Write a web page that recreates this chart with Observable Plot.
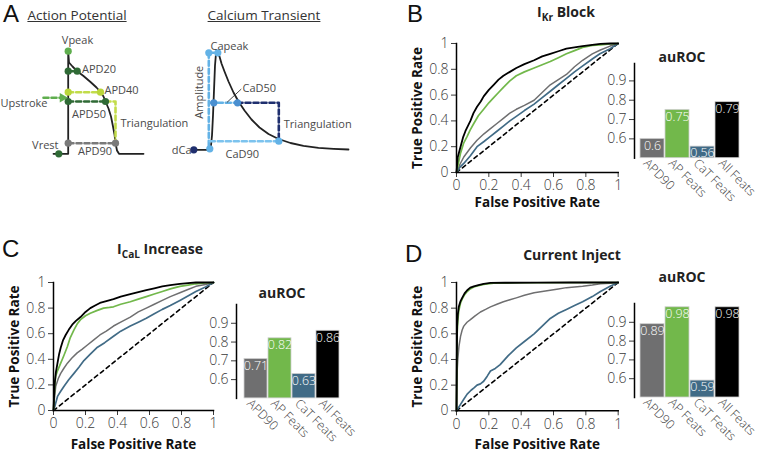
<!DOCTYPE html>
<html><head><meta charset="utf-8">
<script src="https://cdn.jsdelivr.net/npm/d3@7"></script>
<script src="https://cdn.jsdelivr.net/npm/@observablehq/plot@0.6"></script>
<style>
body{margin:0;background:#fff;}
#fig{position:relative;width:762px;height:456px;overflow:hidden;font-family:"Open Sans",sans-serif;color:#222;background:#fff;}
#fig > *{position:absolute;}
.lbl{line-height:1;white-space:nowrap;}
.lbl sub{font-size:0.72em;vertical-align:-0.35em;line-height:0;}
</style></head><body><div id="fig"></div>
<script>
// ---------- data ----------
const categories = ["APD90", "AP Feats", "CaT Feats", "All Feats"];
const colors = ["#6f6f70", "#72b84b", "#416b86", "#000000"];
const aurocB = [0.6, 0.75, 0.56, 0.79];
const aurocC = [0.71, 0.82, 0.63, 0.86];
const aurocD = [0.89, 0.98, 0.59, 0.98];
const rocTicks = [0, 0.2, 0.4, 0.6, 0.8, 1];
const barTicks = [0.6, 0.7, 0.8, 0.9];
const chance = [[0, 0], [1, 1]];

// ROC curves [false positive rate, true positive rate]
const rocB_APD90 = [[0,0],[0.02,0.06],[0.045,0.12],[0.086,0.19],[0.127,0.25],[0.17,0.3],[0.21,0.34],[0.25,0.38],[0.29,0.42],[0.33,0.46],[0.37,0.49],[0.42,0.52],[0.48,0.56],[0.53,0.62],[0.58,0.68],[0.63,0.72],[0.68,0.76],[0.73,0.82],[0.78,0.87],[0.84,0.92],[0.89,0.95],[0.95,0.98],[1,1]];
const rocB_AP = [[0,0],[0.01,0.06],[0.025,0.15],[0.045,0.23],[0.066,0.28],[0.085,0.33],[0.107,0.38],[0.135,0.44],[0.168,0.49],[0.2,0.54],[0.23,0.58],[0.26,0.62],[0.29,0.66],[0.33,0.71],[0.37,0.75],[0.42,0.78],[0.48,0.81],[0.53,0.835],[0.58,0.86],[0.63,0.89],[0.68,0.92],[0.73,0.945],[0.78,0.97],[0.84,0.985],[0.89,0.99],[0.95,0.997],[1,1]];
const rocB_CaT = [[0,0],[0.02,0.04],[0.045,0.07],[0.086,0.13],[0.127,0.2],[0.17,0.24],[0.21,0.28],[0.25,0.32],[0.29,0.36],[0.33,0.4],[0.37,0.435],[0.42,0.48],[0.48,0.53],[0.53,0.58],[0.58,0.63],[0.63,0.68],[0.68,0.73],[0.73,0.78],[0.785,0.83],[0.84,0.88],[0.887,0.92],[0.95,0.96],[1,1]];
const rocB_All = [[0,0],[0.008,0.12],[0.025,0.2],[0.04,0.27],[0.055,0.32],[0.07,0.36],[0.086,0.4],[0.105,0.46],[0.127,0.51],[0.15,0.55],[0.168,0.59],[0.2,0.64],[0.23,0.68],[0.26,0.72],[0.29,0.75],[0.33,0.78],[0.37,0.81],[0.42,0.84],[0.48,0.87],[0.53,0.9],[0.58,0.92],[0.63,0.94],[0.68,0.96],[0.73,0.97],[0.78,0.98],[0.84,0.99],[0.89,0.997],[0.95,1],[1,1]];

const rocC_APD90 = [[0,0],[0.005,0.08],[0.014,0.19],[0.03,0.25],[0.045,0.29],[0.065,0.33],[0.087,0.37],[0.115,0.41],[0.148,0.45],[0.18,0.48],[0.21,0.51],[0.25,0.55],[0.29,0.59],[0.33,0.62],[0.375,0.66],[0.42,0.69],[0.48,0.73],[0.53,0.77],[0.58,0.8],[0.63,0.83],[0.68,0.86],[0.73,0.89],[0.79,0.92],[0.84,0.945],[0.89,0.97],[0.95,0.985],[1,1]];
const rocC_AP = [[0,0],[0.004,0.1],[0.008,0.2],[0.014,0.27],[0.025,0.31],[0.045,0.37],[0.065,0.43],[0.087,0.5],[0.105,0.57],[0.128,0.63],[0.15,0.68],[0.169,0.71],[0.2,0.74],[0.23,0.76],[0.27,0.78],[0.313,0.8],[0.35,0.805],[0.375,0.81],[0.42,0.83],[0.48,0.85],[0.53,0.87],[0.58,0.89],[0.63,0.91],[0.68,0.93],[0.73,0.95],[0.79,0.97],[0.84,0.98],[0.89,0.99],[0.95,0.997],[1,1]];
const rocC_CaT = [[0,0],[0.01,0.04],[0.025,0.11],[0.045,0.15],[0.066,0.19],[0.095,0.24],[0.128,0.29],[0.16,0.34],[0.19,0.39],[0.23,0.44],[0.27,0.49],[0.32,0.53],[0.375,0.58],[0.42,0.62],[0.48,0.66],[0.53,0.69],[0.58,0.72],[0.63,0.755],[0.68,0.79],[0.73,0.82],[0.79,0.86],[0.84,0.895],[0.89,0.93],[0.95,0.965],[1,1]];
const rocC_All = [[0,0],[0.004,0.12],[0.008,0.22],[0.015,0.3],[0.025,0.37],[0.035,0.44],[0.045,0.49],[0.06,0.55],[0.076,0.59],[0.095,0.63],[0.117,0.67],[0.14,0.7],[0.169,0.73],[0.2,0.77],[0.23,0.8],[0.26,0.82],[0.29,0.84],[0.33,0.855],[0.375,0.87],[0.42,0.89],[0.48,0.91],[0.53,0.925],[0.58,0.94],[0.63,0.955],[0.68,0.97],[0.73,0.98],[0.79,0.99],[0.84,0.995],[0.89,1],[1,1]];

const rocD_APD90 = [[0,0],[0.002,0.2],[0.005,0.33],[0.008,0.4],[0.015,0.5],[0.025,0.58],[0.035,0.63],[0.045,0.66],[0.065,0.69],[0.086,0.71],[0.115,0.74],[0.148,0.77],[0.18,0.79],[0.21,0.81],[0.25,0.83],[0.29,0.85],[0.33,0.865],[0.37,0.88],[0.42,0.9],[0.48,0.92],[0.53,0.93],[0.58,0.94],[0.63,0.95],[0.68,0.96],[0.73,0.965],[0.78,0.97],[0.84,0.98],[0.89,0.99],[0.95,0.995],[1,1]];
const rocD_AP = [[0,0],[0.002,0.35],[0.004,0.6],[0.008,0.7],[0.014,0.78],[0.025,0.84],[0.035,0.87],[0.05,0.905],[0.066,0.93],[0.085,0.95],[0.107,0.965],[0.135,0.975],[0.168,0.985],[0.23,0.995],[0.4,0.998],[1,1]];
const rocD_CaT = [[0,0],[0.01,0.02],[0.025,0.05],[0.045,0.09],[0.066,0.13],[0.09,0.16],[0.11,0.18],[0.127,0.2],[0.148,0.21],[0.168,0.23],[0.19,0.27],[0.21,0.31],[0.24,0.33],[0.27,0.36],[0.32,0.43],[0.37,0.49],[0.42,0.54],[0.48,0.6],[0.53,0.66],[0.58,0.72],[0.63,0.76],[0.68,0.79],[0.73,0.82],[0.78,0.85],[0.84,0.89],[0.89,0.93],[0.95,0.97],[1,1]];
const rocD_All = [[0,0],[0.002,0.4],[0.004,0.66],[0.008,0.75],[0.014,0.81],[0.025,0.855],[0.035,0.88],[0.05,0.915],[0.066,0.94],[0.085,0.96],[0.107,0.97],[0.135,0.98],[0.168,0.99],[0.21,0.997],[0.3,0.998],[0.5,0.999],[0.7,1],[1,1]];

// Schematic (panel A), in schematic units
const apTrace = [[53,153.3],[67.7,153.3],[67.7,50.7],[68.5,62],[72,66],[76.7,70.7],[83,75.5],[90,81.5],[96,87],[100,91.5],[103,96],[105,101],[108,108],[110.5,116],[112.5,126],[114,134],[115,142.7],[116.5,150],[118.5,153.3],[143,153.3]];
const apAPD20 = [[67.7,70.7],[76.7,70.7]];
const apAPD40 = [[67.7,91.7],[100,91.7]];
const apAPD50 = [[67.7,101],[105,101]];
const apTri = [[105,101],[115,101],[115,140]];
const apAPD90 = [[68,142.7],[115,142.7]];
const apUpstroke = [[43,97.3],[61,97.3]];
const apDots = [
  {x:67.7,y:50.7,c:"#5fae4e"},{x:67.7,y:70.7,c:"#2f6a35"},{x:76.7,y:70.7,c:"#2f6a35"},
  {x:67.7,y:91.7,c:"#b9d63a"},{x:100,y:91.7,c:"#b9d63a"},{x:67.7,y:101,c:"#2f6a35"},{x:105,y:101,c:"#2f6a35"},
  {x:67.7,y:142.7,c:"#7a7a7a"},{x:115,y:142.7,c:"#7a7a7a"},{x:58.3,y:153.3,c:"#2f6a35"}];
const apLabels = [
  {x:77,y:40,t:"Vpeak",a:"middle"},{x:81.5,y:68.5,t:"APD20",a:"start"},{x:104,y:89.5,t:"APD40",a:"start"},
  {x:47,y:103,t:"Upstroke",a:"end"},{x:71.5,y:114,t:"APD50",a:"start"},{x:120,y:122.5,t:"Triangulation",a:"start"},
  {x:58,y:145,t:"Vrest",a:"end"},{x:77.5,y:150.5,t:"APD90",a:"start"}];
const caTrace = [[193.3,149.3],[209.3,149.3],[210.5,145],[211.5,135],[212.5,115],[213.5,90],[214.5,65],[215.5,53],[217.3,52.3],[219,56],[221,63],[224,71],[228,81],[233,92],[238,101],[244,110],[251,119],[259,127],[268,133.5],[278,138.5],[290,142.5],[303,145.3],[318,147.3],[333,148.3],[348,149]];
const caPeak = [[208.3,52.3],[217.3,52.3]];
const caAmp = [[208.3,52.3],[208.3,148.3]];
const caD50a = [[209.3,102.3],[237,102.3]];
const caD50b = [[237,102.3],[278.3,102.3],[278.3,140.7]];
const caD90 = [[209.3,140.7],[278.3,140.7]];
const caLeader = [[226.7,101.7],[240.5,88.8]];
const caDots = [
  {x:208.3,y:52.3,c:"#63b2e6"},{x:217.3,y:52.3,c:"#63b2e6"},{x:213.3,y:102.3,c:"#4a8fd0"},{x:237,y:102.3,c:"#4a8fd0"},
  {x:278.3,y:140.7,c:"#63b2e6"},{x:209.3,y:148.3,c:"#63b2e6"},{x:193.3,y:149.3,c:"#1f2f6e"}];
const caLabels = [
  {x:210,y:45.5,t:"Capeak",a:"start"},{x:242,y:87.5,t:"CaD50",a:"start"},{x:283.3,y:124,t:"Triangulation",a:"start"},
  {x:191,y:150,t:"dCa",a:"end"},{x:225,y:153.5,t:"CaD90",a:"start"}];
const caAmpLabel = [{x:199.3,y:91.7,t:"Amplitude"}];

// ---------- helpers ----------
const fig = document.getElementById("fig");
const FONT = '"Open Sans", "Noto Sans", sans-serif';
function place(el, left, top) { el.style.position = "absolute"; el.style.left = left + "px"; el.style.top = top + "px"; fig.appendChild(el); }
function label(html, left, top, size, weight, anchor, extra) {
  const d = document.createElement("div");
  d.className = "lbl"; d.innerHTML = html;
  d.style.fontSize = size + "px"; d.style.fontWeight = weight;
  if (anchor === "middle") d.style.transform = "translateX(-50%)";
  if (extra) Object.assign(d.style, extra);
  place(d, left, top);
}
const fmt = d => String(+d.toFixed(1));

function rocChart(curves, fl, ft, fw, fh, xTitleDy) {
  const mL = 52, mT = 10, mR = 10, mB = 46;
  const p = Plot.plot({
    width: mL + fw + mR, height: mT + fh + mB,
    marginLeft: mL, marginTop: mT, marginRight: mR, marginBottom: mB,
    style: {fontFamily: FONT, fontSize: "14px", color: "#3a3a3a", background: "transparent", overflow: "visible"},
    x: {domain: [0, 1]}, y: {domain: [0, 1]},
    marks: [
      Plot.line(chance, {stroke: "#000", strokeWidth: 1.6, strokeDasharray: "4,3.5"}),
      Plot.line(curves[0], {stroke: colors[0], strokeWidth: 1.5}),
      Plot.line(curves[2], {stroke: colors[2], strokeWidth: 1.7}),
      Plot.line(curves[1], {stroke: colors[1], strokeWidth: 1.7}),
      Plot.line(curves[3], {stroke: colors[3], strokeWidth: 1.8}),
      Plot.axisX({ticks: rocTicks, tickFormat: fmt, tickSize: 5, tickPadding: 3, label: null, fontWeight: 300, fill: "#3a3a3a"}),
      Plot.axisY({ticks: rocTicks, tickFormat: fmt, tickSize: 5, tickPadding: 3, label: null, fontWeight: 300, fill: "#3a3a3a"}),
      Plot.frame({anchor: "left", stroke: "#000", strokeWidth: 1.5}),
      Plot.frame({anchor: "bottom", stroke: "#000", strokeWidth: 1.5}),
      Plot.text(["False Positive Rate"], {text: d => d, frameAnchor: "bottom", textAnchor: "middle", dy: xTitleDy, fontWeight: "bold", fontSize: 13.5, fill: "#111"}),
      Plot.text(["True Positive Rate"], {text: d => d, frameAnchor: "left", textAnchor: "middle", dx: -39, rotate: -90, fontWeight: "bold", fontSize: 13.5, fill: "#111"})
    ]
  });
  place(p, fl - mL, ft - mT);
}

function barChart(values, fl, fr, ft, fb, yTop) {
  const mL = 32, mT = 4, mR = 22, mB = 56;
  const rows = categories.map((c, i) => ({cat: c, value: values[i], color: colors[i]}));
  const p = Plot.plot({
    width: mL + (fr - fl) + mR, height: mT + (fb - ft) + mB,
    marginLeft: mL, marginTop: mT, marginRight: mR, marginBottom: mB,
    style: {fontFamily: FONT, fontSize: "14px", color: "#3a3a3a", background: "transparent", overflow: "visible"},
    x: {domain: categories, paddingInner: 0.03, paddingOuter: 0.08, align: 1},
    y: {domain: [0.5, yTop]},
    color: {type: "identity"},
    marks: [
      Plot.barY(rows, {x: "cat", y1: 0.5, y2: "value", fill: d => d.color, stroke: "#d0d0d0", strokeWidth: 0.8}),
      Plot.text(rows, {x: "cat", y: "value", text: d => String(d.value), fill: "#fff", lineAnchor: "top", dy: 2, fontSize: 12.5, fontWeight: 300}),
      Plot.axisY({ticks: barTicks, tickFormat: d => d.toFixed(1), tickSize: 5, tickPadding: 3, label: null, fontWeight: 300, fill: "#3a3a3a"}),
      Plot.axisX({tickRotate: 45, tickSize: 0, tickPadding: 3, dx: -7, label: null, fontSize: 12.5, fontWeight: 300, fill: "#444"}),
      Plot.frame({anchor: "left", stroke: "#000", strokeWidth: 1.5})
    ]
  });
  place(p, fl - mL, ft - mT);
}

// ---------- panel A (schematic) ----------
const dash = {strokeWidth: 2.6, strokeDasharray: "5,3"};
const txt = {x: "x", y: "y", text: "t", fontSize: 11, fill: "#4a4a4a"};
const A = Plot.plot({
  width: 380, height: 175, margin: 0,
  style: {fontFamily: FONT, background: "transparent", overflow: "visible"},
  x: {domain: [0, 380], range: [0, 380], axis: null},
  y: {domain: [0, 175], range: [0, 175], axis: null},
  color: {type: "identity"},
  marks: [
    Plot.line(apTrace, {stroke: "#222", strokeWidth: 1.8}),
    Plot.line(apAPD20, {stroke: "#2f6a35", ...dash}),
    Plot.line(apAPD40, {stroke: "#c2dc4a", ...dash}),
    Plot.line(apTri, {stroke: "#c2dc4a", ...dash}),
    Plot.line(apAPD50, {stroke: "#2f6a35", ...dash}),
    Plot.line(apAPD90, {stroke: "#7a7a7a", ...dash}),
    Plot.line(apUpstroke, {stroke: "#5fae4e", ...dash}),
    Plot.dot([apUpstroke[1]], {x: d => d[0], y: d => d[1], symbol: "triangle2", rotate: 90, r: 4.5, fill: "#5fae4e", dx: 1}),
    Plot.dot(apDots, {x: "x", y: "y", r: 3.6, fill: "c"}),
    Plot.text(apLabels.filter(d => d.a === "start"), {...txt, textAnchor: "start"}),
    Plot.text(apLabels.filter(d => d.a === "end"), {...txt, textAnchor: "end"}),
    Plot.text(apLabels.filter(d => d.a === "middle"), {...txt, textAnchor: "middle"}),
    Plot.line(caTrace, {stroke: "#222", strokeWidth: 1.8}),
    Plot.line(caAmp, {stroke: "#63b2e6", ...dash}),
    Plot.line(caPeak, {stroke: "#63b2e6", ...dash}),
    Plot.line(caD90, {stroke: "#7cc3ee", ...dash}),
    Plot.line(caD50b, {stroke: "#1f2f6e", ...dash}),
    Plot.line(caD50a, {stroke: "#63b2e6", ...dash}),
    Plot.line(caLeader, {stroke: "#333", strokeWidth: 0.9}),
    Plot.dot(caDots, {x: "x", y: "y", r: 3.6, fill: "c"}),
    Plot.text(caLabels.filter(d => d.a === "start"), {...txt, textAnchor: "start"}),
    Plot.text(caLabels.filter(d => d.a === "end"), {...txt, textAnchor: "end"}),
    Plot.text(caAmpLabel, {...txt, rotate: -90, textAnchor: "middle"})
  ]
});
place(A, 0, 0);

// ---------- ROC + bar panels ----------
rocChart([rocB_APD90, rocB_AP, rocB_CaT, rocB_All], 456, 43, 161.7, 129, 35);
barChart(aurocB, 634, 739, 62.6, 157.3, 0.99);
rocChart([rocC_APD90, rocC_AP, rocC_CaT, rocC_All], 53, 282, 160, 128, 38);
barChart(aurocC, 236, 339, 303.9, 397.8, 1.0);
rocChart([rocD_APD90, rocD_AP, rocD_CaT, rocD_All], 456, 281.7, 161.7, 128.3, 38);
barChart(aurocD, 634, 739, 303, 397, 1.0);

// ---------- text ----------
const LETTER = {fontFamily: '"Liberation Sans", Arial, sans-serif', color: "#111"};
label("A", 3, 2, 24, 400, null, LETTER);
label("B", 407, 2, 24, 400, null, LETTER);
label("C", 2, 236.7, 24, 400, null, LETTER);
label("D", 405, 241.7, 24, 400, null, LETTER);
label("Action Potential", 77, 9, 13.5, 400, "middle", {textDecoration: "underline", color: "#333"});
label("Calcium Transient", 264, 9, 13.5, 400, "middle", {textDecoration: "underline", color: "#333"});
label("I<sub>Kr</sub> Block", 566, 4.9, 14, 700, "middle");
label("I<sub>CaL</sub> Increase", 160, 241.6, 14, 700, "middle");
label("Current Inject", 572, 248.3, 14, 700, "middle");
label("auROC", 682, 49.6, 14, 700, "middle");
label("auROC", 282, 286, 14, 700, "middle");
label("auROC", 682, 270.3, 14, 700, "middle");
</script></body></html>
